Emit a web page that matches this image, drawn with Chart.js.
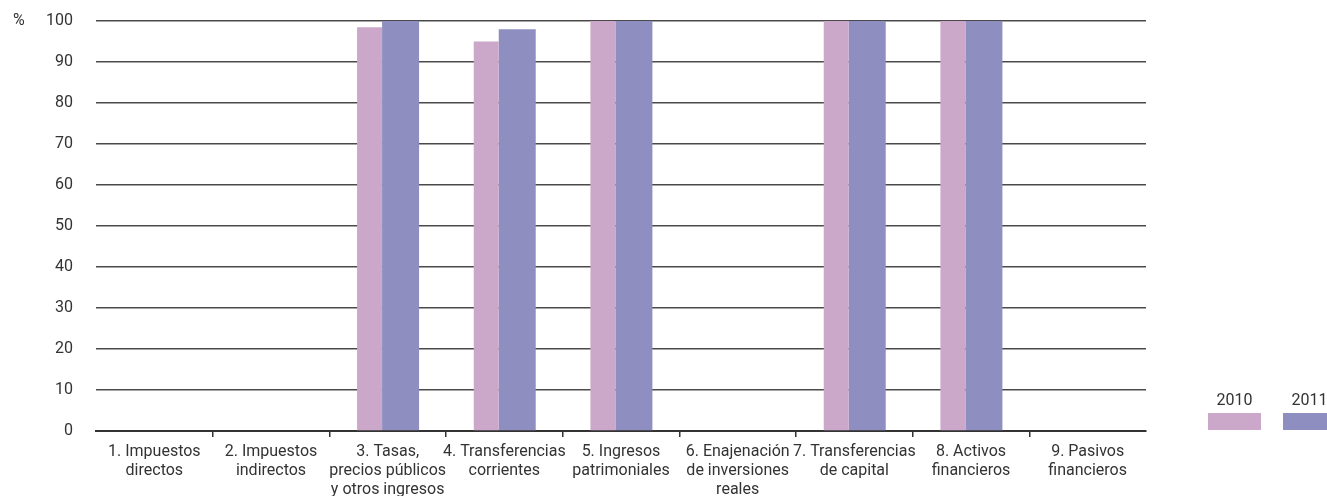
<!DOCTYPE html>
<html>
<head>
<meta charset="utf-8">
<script src="https://cdn.jsdelivr.net/npm/chart.js@4/dist/chart.umd.min.js"></script>
<style>
  html,body{margin:0;padding:0;background:#fff;overflow:hidden;}
  #wrap{position:relative;width:1327px;height:496px;overflow:hidden;}
  #c{position:absolute;left:0;top:0;}
  .lg{position:absolute;font-family:Roboto, "Liberation Sans", sans-serif;font-size:16px;color:#333;text-align:center;}
  .lgbox{position:absolute;height:17px;width:53px;}
</style>
</head>
<body>
<div id="wrap">
  <canvas id="c" width="1327" height="496"></canvas>
  <div class="lg" style="left:1208px;top:390px;width:53px;">2010</div>
  <div class="lgbox" style="left:1208px;top:413px;background:#cba8c9;"></div>
  <div class="lg" style="left:1283px;top:390px;width:53px;">2011</div>
  <div class="lgbox" style="left:1283px;top:413px;background:#8e8fc0;"></div>
</div>
<script>
const categories = [
  ["1. Impuestos","directos"],
  ["2. Impuestos","indirectos"],
  ["3. Tasas,","precios públicos","y otros ingresos"],
  ["4. Transferencias","corrientes"],
  ["5. Ingresos","patrimoniales"],
  ["6. Enajenación","de inversiones","reales"],
  ["7. Transferencias","de capital"],
  ["8. Activos","financieros"],
  ["9. Pasivos","financieros"]
];
const values2010 = [0, 0, 98.5, 95, 100, 0, 100, 100, 0];
const values2011 = [0, 0, 100, 98, 100, 0, 100, 100, 0];
const seriesNames = ["2010", "2011"];
const seriesColors = ["#cba8c9", "#8e8fc0"];
const yTicks = [0,10,20,30,40,50,60,70,80,90,100];

const FONT = "Roboto, 'Liberation Sans', sans-serif";
const TEXT = "#333333";

const percentPlugin = {
  id: 'percentLabel',
  afterDraw(chart) {
    const y = chart.scales.y;
    const ctx = chart.ctx;
    ctx.save();
    ctx.font = "16px " + FONT;
    ctx.fillStyle = TEXT;
    ctx.textAlign = "left";
    ctx.textBaseline = "middle";
    ctx.fillText("%", 13, y.getPixelForValue(100));
    ctx.restore();
  }
};

new Chart(document.getElementById('c'), {
  type: 'bar',
  data: {
    labels: categories,
    datasets: [
      { label: seriesNames[0], data: values2010, backgroundColor: seriesColors[0], borderWidth: 0,
        categoryPercentage: 0.6206, barPercentage: 0.69 },
      { label: seriesNames[1], data: values2011, backgroundColor: seriesColors[1], borderWidth: 0,
        categoryPercentage: 0.4423, barPercentage: 1.434 }
    ]
  },
  options: {
    responsive: false,
    animation: false,
    devicePixelRatio: 1,
    layout: { padding: { top: 21, right: 181, left: 0, bottom: 0 } },
    plugins: { legend: { display: false }, tooltip: { enabled: false } },
    scales: {
      x: {
        offset: true,
        border: { display: true, color: '#333333', width: 2 },
        grid: {
          offset: true,
          drawOnChartArea: false,
          drawTicks: true,
          tickLength: 6,
          lineWidth: 1.5,
          color: (c) => (c.index === 0 || c.index === undefined) ? 'rgba(0,0,0,0)' : '#333333'
        },
        ticks: {
          autoSkip: false,
          maxRotation: 0,
          minRotation: 0,
          padding: 5,
          color: TEXT,
          font: { family: FONT, size: 16, lineHeight: 1.1875 }
        },
        afterFit(scale) { scale.height = 65; }
      },
      y: {
        min: 0,
        max: 100,
        border: { display: false },
        grid: { drawTicks: false, color: '#4a4a4a', lineWidth: 1.5 },
        afterBuildTicks(scale) { scale.ticks = yTicks.map(v => ({ value: v })); },
        ticks: {
          padding: 23,
          color: TEXT,
          font: { family: FONT, size: 16 }
        },
        afterFit(scale) { scale.width = 96; scale.paddingTop = 0; scale.paddingBottom = 0; }
      }
    }
  },
  plugins: [percentPlugin]
});
</script>
</body>
</html>
